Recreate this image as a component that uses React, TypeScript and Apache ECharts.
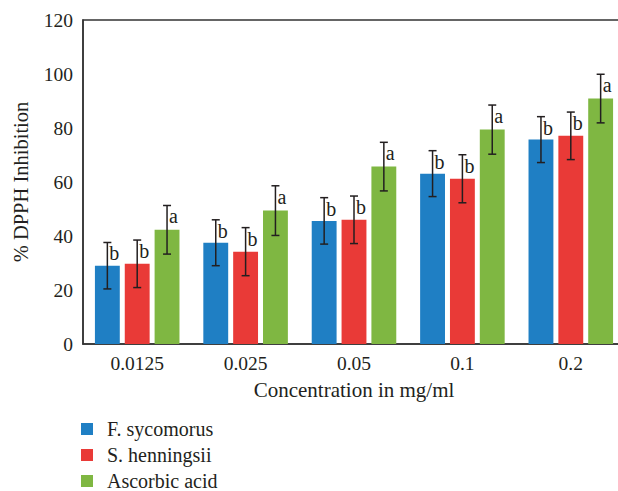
import React, { useEffect, useRef } from "react";
import * as echarts from "echarts";

const categories = ["0.0125", "0.025", "0.05", "0.1", "0.2"];
const seriesNames = ["F. sycomorus", "S. henningsii", "Ascorbic acid"];
const fSycomorus = [29.0, 37.5, 45.6, 63.1, 75.7];
const sHenningsii = [29.7, 34.2, 46.0, 61.2, 77.1];
const ascorbicAcid = [42.3, 49.4, 65.7, 79.4, 90.9];
const fSycomorusErr = [8.6, 8.5, 8.6, 8.5, 8.5];
const sHenningsiiErr = [8.8, 8.9, 8.8, 8.9, 8.8];
const ascorbicAcidErr = [9.0, 9.2, 9.0, 9.1, 9.0];
const fSycomorusLetters = ["b", "b", "b", "b", "b"];
const sHenningsiiLetters = ["b", "b", "b", "b", "b"];
const ascorbicAcidLetters = ["a", "a", "a", "a", "a"];
const yTicks = [0, 20, 40, 60, 80, 100, 120];

const colors = ["#1f7fc4", "#e93a37", "#7fb742"];
const FONT = "'Liberation Serif', 'Times New Roman', serif";
const INK = "#231f20";
const CAT_GAP = 0.22;
const BAR_GAP = 0.2;

export default function App() {
  const ref = useRef<HTMLDivElement>(null);
  useEffect(() => {
    if (!ref.current) return;
    const chart = echarts.init(ref.current, undefined, { renderer: "svg" });
    const values = [fSycomorus, sHenningsii, ascorbicAcid];
    const errs = [fSycomorusErr, sHenningsiiErr, ascorbicAcidErr];
    const letters = [fSycomorusLetters, sHenningsiiLetters, ascorbicAcidLetters];

    const barSeries = values.map((vals, k) => ({
      name: seriesNames[k],
      type: "bar",
      data: vals,
      barCategoryGap: `${CAT_GAP * 100}%`,
      barGap: `${BAR_GAP * 100}%`,
      itemStyle: { color: colors[k] },
    }));

    const errSeries = values.map((vals, k) => ({
      name: "err" + k,
      type: "custom",
      z: 5,
      data: vals.map((v, i) => [i, v, errs[k][i]]),
      encode: { x: 0, y: 1 },
      renderItem: (params: any, api: any) => {
        const cat = api.value(0);
        const v = api.value(1);
        const e = api.value(2);
        const band = api.size([1, 0])[0];
        const bw = (band * (1 - CAT_GAP)) / (3 + 2 * BAR_GAP);
        const cx = api.coord([cat, v])[0] + (k - 1) * bw * (1 + BAR_GAP);
        const yTop = api.coord([cat, v + e])[1];
        const yBot = api.coord([cat, v - e])[1];
        const st = { stroke: INK, lineWidth: 1.5 };
        return {
          type: "group",
          children: [
            { type: "line", shape: { x1: cx, y1: yTop, x2: cx, y2: yBot }, style: st },
            { type: "line", shape: { x1: cx - 4, y1: yTop, x2: cx + 4, y2: yTop }, style: st },
            { type: "line", shape: { x1: cx - 4, y1: yBot, x2: cx + 4, y2: yBot }, style: st },
            {
              type: "text",
              x: cx + 2,
              y: yTop + 11,
              style: {
                text: letters[k][params.dataIndex],
                fontSize: 20,
                fontFamily: FONT,
                fill: INK,
                align: "left",
                verticalAlign: "middle",
              },
            },
          ],
        };
      },
    }));

    chart.setOption({
      animation: false,
      textStyle: { fontFamily: FONT, color: INK },
      grid: {
        left: 83,
        right: 15,
        top: 20,
        bottom: 147,
        show: true,
        borderColor: "#333",
        borderWidth: 1.5,
      },
      legend: {
        data: seriesNames,
        orient: "vertical",
        left: 81,
        top: 419,
        height: 120,
        icon: "rect",
        itemWidth: 12,
        itemHeight: 12,
        itemGap: 6,
        padding: 0,
        textStyle: {
          fontSize: 20,
          fontFamily: FONT,
          color: INK,
          lineHeight: 20,
          padding: [0, 0, 0, 9],
        },
      },
      xAxis: {
        type: "category",
        data: categories,
        name: "Concentration in mg/ml",
        nameLocation: "middle",
        nameGap: 35,
        nameTextStyle: { fontSize: 21, fontFamily: FONT, color: INK },
        axisLine: { lineStyle: { color: "#333", width: 1.5 } },
        axisTick: { show: false },
        axisLabel: { fontSize: 19.5, fontFamily: FONT, color: INK, margin: 9 },
      },
      yAxis: {
        type: "value",
        min: yTicks[0],
        max: yTicks[yTicks.length - 1],
        interval: yTicks[1] - yTicks[0],
        name: "% DPPH Inhibition",
        nameLocation: "middle",
        nameGap: 52,
        nameTextStyle: { fontSize: 20.5, fontFamily: FONT, color: INK },
        axisLine: { show: true, lineStyle: { color: "#333", width: 1.5 } },
        axisTick: { show: false },
        splitLine: { show: false },
        axisLabel: { fontSize: 19.5, fontFamily: FONT, color: INK, margin: 10 },
      },
      series: [...barSeries, ...errSeries],
    });
    return () => chart.dispose();
  }, []);

  return (
    <div
      style={{
        position: "absolute",
        left: 0,
        top: 0,
        width: 618,
        height: 491,
        overflow: "hidden",
        background: "#fff",
      }}
    >
      <div ref={ref} style={{ width: 640, height: 491 }} />
    </div>
  );
}
